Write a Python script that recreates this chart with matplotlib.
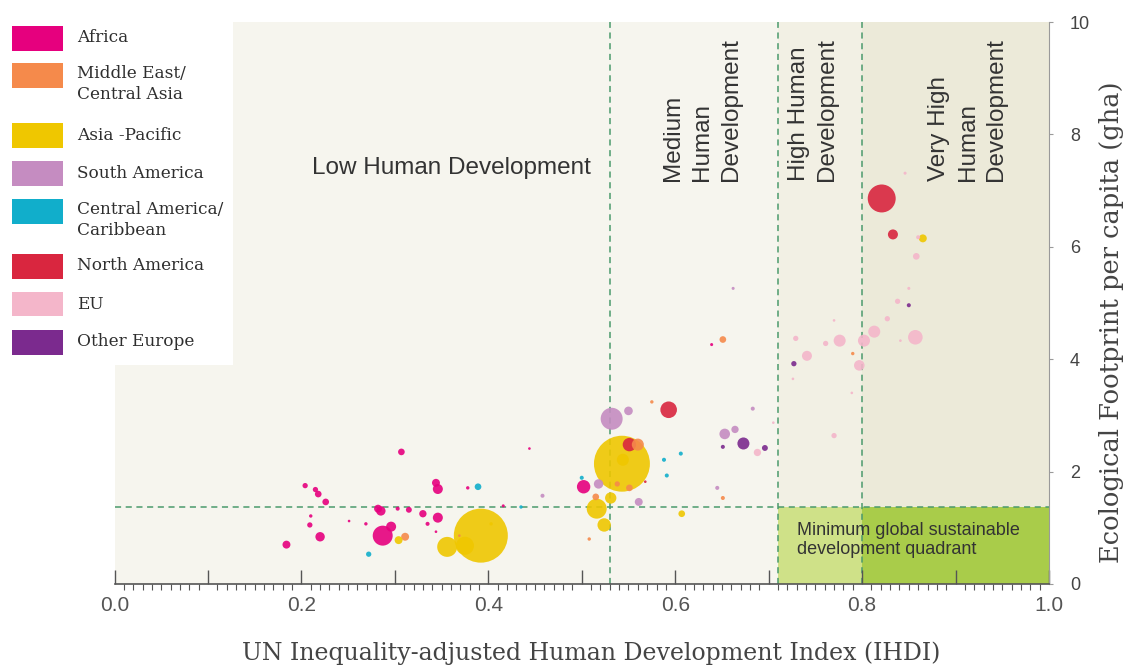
import numpy as np
import matplotlib.pyplot as plt
from matplotlib.patches import Rectangle

# region -> (x = IHDI, y = footprint gha, pop in millions)
africa_x = [0.307, 0.204, 0.215, 0.218, 0.226, 0.210, 0.209, 0.220, 0.184, 0.251, 0.269, 0.282, 0.285, 0.287,
            0.296, 0.303, 0.315, 0.330, 0.335, 0.344, 0.346, 0.346, 0.344, 0.378, 0.416, 0.502, 0.639, 0.444]
africa_y = [2.35, 1.75, 1.68, 1.60, 1.46, 1.21, 1.05, 0.84, 0.70, 1.12, 1.07, 1.34, 1.30, 0.86,
            1.02, 1.34, 1.32, 1.25, 1.07, 1.80, 1.69, 1.18, 0.93, 1.71, 1.39, 1.73, 4.26, 2.41]
africa_pop = [19, 12, 12, 19, 19, 5, 12, 38, 27, 3, 5, 27, 38, 171,
              43, 7, 15, 23, 7, 27, 43, 43, 3, 5, 4, 77, 4, 3]

mideast_x = [0.311, 0.369, 0.575, 0.651, 0.560, 0.551, 0.515, 0.508, 0.651, 0.790, 0.538]
mideast_y = [0.84, 0.86, 3.24, 4.35, 2.48, 1.71, 1.55, 0.80, 1.53, 4.10, 1.78]
mideast_pop = [27, 3, 5, 19, 62, 19, 19, 5, 7, 5, 12]

asia_x = [0.392, 0.356, 0.375, 0.304, 0.543, 0.544, 0.516, 0.531, 0.524, 0.607, 0.865, 0.403]
asia_y = [0.86, 0.66, 0.68, 0.78, 2.14, 2.21, 1.34, 1.53, 1.05, 1.25, 6.15, 1.07]
asia_pop = [1250, 171, 140, 27, 1340, 62, 171, 55, 77, 19, 27, 5]

samerica_x = [0.532, 0.550, 0.518, 0.458, 0.561, 0.653, 0.664, 0.683, 0.645, 0.662]
samerica_y = [2.94, 3.08, 1.78, 1.57, 1.46, 2.67, 2.75, 3.12, 1.71, 5.26]
samerica_pop = [207, 32, 38, 7, 27, 48, 23, 7, 7, 4]

camerica_x = [0.272, 0.389, 0.435, 0.500, 0.588, 0.591, 0.606]
camerica_y = [0.53, 1.73, 1.37, 1.89, 2.21, 1.93, 2.32]
camerica_pop = [12, 19, 5, 7, 7, 7, 7]

namerica_x = [0.821, 0.833, 0.593, 0.551, 0.568]
namerica_y = [6.86, 6.22, 3.10, 2.48, 1.82]
namerica_pop = [335, 43, 118, 77, 3]

eu_x = [0.858, 0.860, 0.846, 0.850, 0.838, 0.827, 0.813, 0.802, 0.857, 0.841, 0.776,
        0.761, 0.729, 0.741, 0.797, 0.726, 0.770, 0.789, 0.770, 0.688, 0.705]
eu_y = [5.83, 6.17, 7.31, 5.26, 5.03, 4.72, 4.49, 4.33, 4.39, 4.33, 4.33,
        4.28, 4.37, 4.06, 3.89, 3.65, 4.69, 3.40, 2.64, 2.34, 2.87]
eu_pop = [19, 7, 4, 4, 12, 12, 62, 62, 91, 3, 62,
          12, 12, 43, 48, 3, 3, 3, 12, 23, 3]

oeurope_x = [0.727, 0.850, 0.673, 0.696, 0.651]
oeurope_y = [3.92, 4.96, 2.50, 2.42, 2.44]
oeurope_pop = [12, 7, 62, 15, 7]

regions = ["Africa", "Middle East/\nCentral Asia", "Asia -Pacific", "South America",
           "Central America/\nCaribbean", "North America", "EU", "Other Europe"]
colors = ["#e6007e", "#f58a4b", "#efc700", "#c58cc1", "#11aecb", "#d9263f", "#f4b6ca", "#7b2a8e"]
xs = [africa_x, mideast_x, asia_x, samerica_x, camerica_x, namerica_x, eu_x, oeurope_x]
ys = [africa_y, mideast_y, asia_y, samerica_y, camerica_y, namerica_y, eu_y, oeurope_y]
pops = [africa_pop, mideast_pop, asia_pop, samerica_pop, camerica_pop, namerica_pop, eu_pop, oeurope_pop]

min_footprint = 1.37
bands = [0.53, 0.71, 0.8]

fig = plt.figure(figsize=(11.26, 6.69), dpi=100)
ax = fig.add_axes([0.1017, 0.1271, 0.8299, 0.840])
ax.set_xlim(0, 1)
ax.set_ylim(0, 10)

# backgrounds
ax.axvspan(0, 0.71, color="#f6f5ee", zorder=0, lw=0)
ax.axvspan(0.71, 0.8, color="#f2f0e4", zorder=0, lw=0)
ax.axvspan(0.8, 1.0, color="#ecead9", zorder=0, lw=0)
ax.add_patch(Rectangle((0.71, 0), 0.09, min_footprint, color="#cfe188", lw=0, zorder=0.5))
ax.add_patch(Rectangle((0.8, 0), 0.2, min_footprint, color="#a9cc4a", lw=0, zorder=0.5))

dash_c = "#4b9a6c"
for b in bands:
    ax.axvline(b, color=dash_c, ls=(0, (4, 3)), lw=1.1, zorder=1)
ax.axhline(min_footprint, color=dash_c, ls=(0, (4, 3)), lw=1.1, zorder=1)

# bubbles, biggest first so small ones sit on top
all_x = np.concatenate([np.array(v) for v in xs])
all_y = np.concatenate([np.array(v) for v in ys])
all_p = np.concatenate([np.array(v) for v in pops])
all_c = np.concatenate([[c] * len(v) for c, v in zip(colors, xs)])
order = np.argsort(-all_p)
ax.scatter(all_x[order], all_y[order], s=all_p[order] * 1.21, c=all_c[order],
           alpha=0.9, linewidths=0, zorder=3)

# band labels
txt = dict(family="Liberation Sans", color="#333333", fontsize=17.5, zorder=4)
ax.text(0.361, 7.41, "Low Human Development", ha="center", va="center", **txt)
ax.text(0.629, 7.17, "Medium\nHuman\nDevelopment", rotation=90, ha="center", va="bottom",
        multialignment="left", linespacing=1.4, **txt)
ax.text(0.747, 7.17, "High Human\nDevelopment", rotation=90, ha="center", va="bottom",
        multialignment="left", linespacing=1.35, **txt)
ax.text(0.913, 7.17, "Very High\nHuman\nDevelopment", rotation=90, ha="center", va="bottom",
        multialignment="left", linespacing=1.38, **txt)
ax.text(0.730, 0.79, "Minimum global sustainable\ndevelopment quadrant", ha="left", va="center",
        family="Liberation Sans", color="#333333", fontsize=13, linespacing=1.15, zorder=4)

# axes styling
for s in ["top", "left"]:
    ax.spines[s].set_visible(False)
ax.spines["right"].set_color("#9a9a9a")
ax.spines["bottom"].set_color("#555555")
ax.spines["bottom"].set_linewidth(1.2)

ax.set_xticks(np.arange(0, 1.01, 0.1))
ax.set_xticks(np.arange(0, 1.001, 0.01), minor=True)
ax.set_xticklabels(["0.0", "", "0.2", "", "0.4", "", "0.6", "", "0.8", "", "1.0"],
                   family=["Liberation Sans Narrow", "Liberation Sans"], fontsize=15, color="#555555")
ax.tick_params(axis="x", which="major", direction="in", length=10, width=1, color="#555555", pad=9)
ax.tick_params(axis="x", which="minor", direction="out", length=4, width=0.8, color="#555555")

ax.yaxis.tick_right()
ax.yaxis.set_label_position("right")
ax.set_yticks([0, 2, 4, 6, 8, 10])
ax.set_yticklabels(["0", "2", "4", "6", "8", "10"], family="Liberation Sans", fontsize=13, color="#444444")
ax.tick_params(axis="y", direction="out", length=3, color="#9a9a9a", pad=12)

ax.set_xlabel("UN Inequality-adjusted Human Development Index (IHDI)", family="DejaVu Serif",
              fontsize=17, color="#444444")
ax.xaxis.set_label_coords(0.51, -0.103)
ax.set_ylabel("Ecological Footprint per capita (gha)", family="DejaVu Serif",
              fontsize=18.5, color="#444444")
ax.yaxis.set_label_coords(1.054, 0.466)

# legend in white box, figure pixel coords
W, H = 1126, 669
fig.add_artist(Rectangle((0, 1 - 365 / H), 233 / W, 365 / H, transform=fig.transFigure,
                         color="white", lw=0, zorder=5))
centers = [38, 75, 135, 173, 211, 266, 304, 342]
for name, c, yc in zip(regions, colors, centers):
    fig.add_artist(Rectangle((12 / W, 1 - (yc + 12.5) / H), 51 / W, 25 / H,
                             transform=fig.transFigure, color=c, lw=0, zorder=6))
    off = 9 if "\n" in name else 0
    fig.text(77 / W, 1 - (yc + off) / H, name, ha="left", va="center", family="DejaVu Serif",
             fontsize=12.2, color="#2e2e2e", linespacing=1.3, zorder=7)

fig.savefig("out.png", dpi=100)
